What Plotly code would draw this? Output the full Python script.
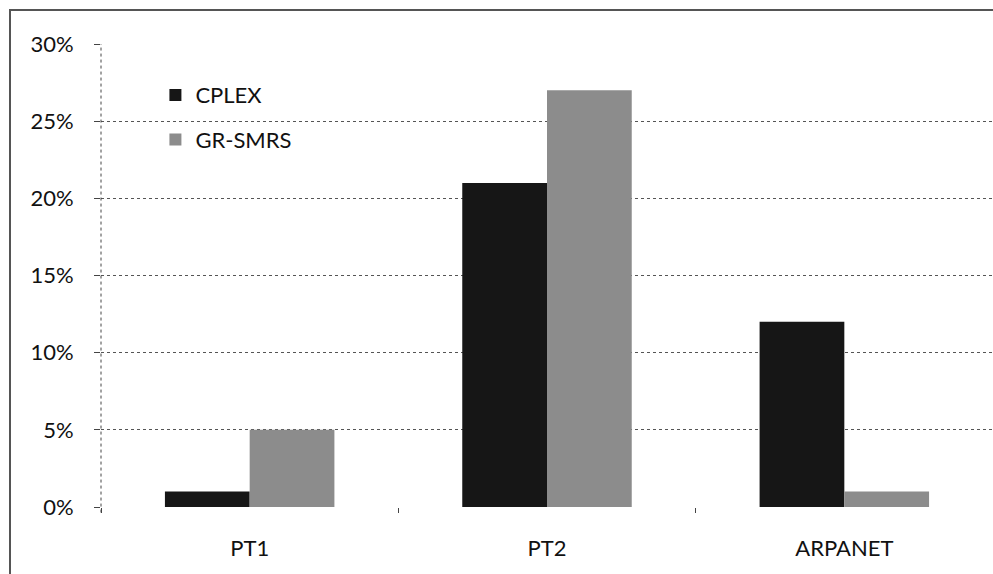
import plotly.graph_objects as go

categories = ["PT1", "PT2", "ARPANET"]
cplex = [1, 21, 12]
gr_smrs = [5, 27, 1]
y_ticks = [0, 5, 10, 15, 20, 25, 30]
y_labels = [f"{v}%" for v in y_ticks]

FONT = "Lato, 'Open Sans', sans-serif"

fig = go.Figure()
fig.add_trace(go.Bar(x=categories, y=cplex, name="CPLEX", legendgroup="a",
                     marker=dict(color="#161616", line=dict(width=0))))
fig.add_trace(go.Bar(x=categories, y=gr_smrs, name="GR-SMRS", legendgroup="b",
                     marker=dict(color="#8c8c8c", line=dict(width=0))))

fig.update_layout(
    width=993, height=574,
    margin=dict(l=101, r=0, t=44, b=67, autoexpand=False),
    paper_bgcolor="white", plot_bgcolor="white",
    barmode="group", bargap=0.43, bargroupgap=0,
    font=dict(family=FONT, size=22, color="#111"),
    showlegend=True,
    legend=dict(x=0.061, y=0.935, xanchor="left", yanchor="top",
                bgcolor="rgba(0,0,0,0)", font=dict(size=22),
                tracegroupgap=13, itemwidth=30),
    xaxis=dict(tickson="boundaries", ticks="outside", ticklen=5,
               tickcolor="#444", showgrid=False, showline=False,
               zeroline=False, ticklabelstandoff=26, automargin=False,
               tickfont=dict(size=22)),
    yaxis=dict(range=[0, 30], tickvals=y_ticks, ticktext=y_labels,
               showgrid=True, gridcolor="#555", griddash="dot", gridwidth=1,
               zeroline=False, ticks="outside", ticklen=6, tickcolor="#444",
               ticklabelstandoff=16, automargin=False, tickfont=dict(size=22)),
    shapes=[
        dict(type="line", xref="paper", yref="paper", x0=0, x1=0, y0=-0.012, y1=1,
             line=dict(color="#444", width=1, dash="dot")),
        dict(type="rect", xref="paper", yref="paper",
             x0=-91/892, x1=1.02, y0=-0.2, y1=1 + 34/463,
             line=dict(color="#555", width=2), layer="below"),
    ],
)

fig.write_html("out.html", config={"displayModeBar": False},
               post_script="document.body.style.margin='0';document.body.style.overflow='hidden';")
